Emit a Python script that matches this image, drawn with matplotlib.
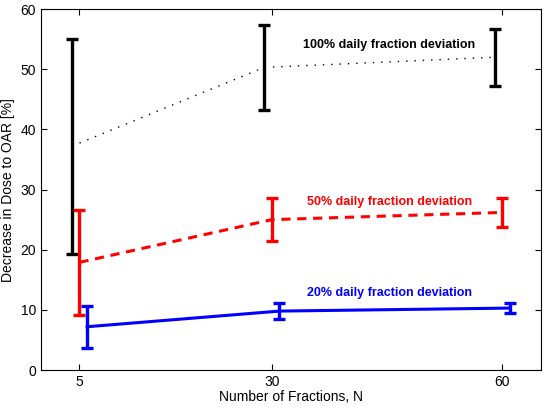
import matplotlib.pyplot as plt

plt.rcParams['font.family'] = ['Liberation Sans', 'DejaVu Sans']

fractions = [5, 30, 60]
offsets = {'100%': -1.0, '50%': 0.0, '20%': 1.0}

mean_100 = [37.2, 50.3, 52.0]
err_100 = [17.9, 7.0, 4.75]
mean_50 = [17.9, 25.0, 26.2]
err_50 = [8.75, 3.6, 2.4]
mean_20 = [7.2, 9.8, 10.3]
err_20 = [3.5, 1.3, 0.9]

fig = plt.figure(figsize=(5.44, 4.13), dpi=100)
ax = fig.add_axes([0.0754, 0.104, 0.919, 0.874])

series = [
    ('100%', mean_100, err_100, 'black', (0, (1, 5)), 1.0),
    ('50%', mean_50, err_50, 'red', (0, (3, 2.2)), 2.2),
    ('20%', mean_20, err_20, 'blue', '-', 2.2),
]
for name, m, e, c, ls, lw in series:
    xs = [f + offsets[name] for f in fractions]
    ax.plot(xs, m, color=c, linestyle=ls, linewidth=lw)
    ax.errorbar(xs, m, yerr=e, fmt='none', ecolor=c, elinewidth=2.4,
                capsize=4.5, capthick=2.4)

ax.text(45.3, 54.0, '100% daily fraction deviation', color='black',
        fontsize=9, fontweight='bold', ha='center', va='center')
ax.text(45.3, 27.9, '50% daily fraction deviation', color='red',
        fontsize=9, fontweight='bold', ha='center', va='center')
ax.text(45.3, 12.8, '20% daily fraction deviation', color='blue',
        fontsize=9, fontweight='bold', ha='center', va='center')

ax.set_xlim(0, 65)
ax.set_ylim(0, 60)
ax.set_xticks(fractions)
ax.set_yticks(range(0, 61, 10))
ax.tick_params(direction='in', top=True, right=True, labelsize=10, length=4)
ax.set_xlabel('Number of Fractions, N', fontsize=10, labelpad=1)
ax.set_ylabel('Decrease in Dose to OAR [%]', fontsize=10, labelpad=4)

fig.savefig('out.png', dpi=100)
